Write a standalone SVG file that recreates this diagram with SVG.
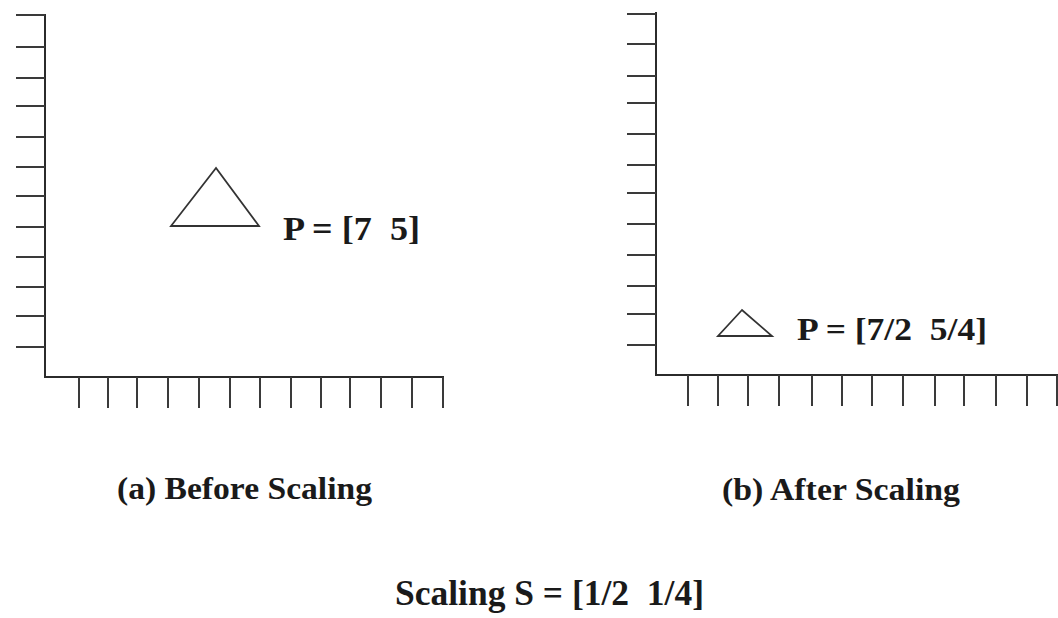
<svg xmlns="http://www.w3.org/2000/svg" width="1058" height="618" viewBox="0 0 1058 618">
<style>
.ax{stroke:#2b2b2b;stroke-width:2;fill:none;stroke-linecap:square}
.tk{stroke:#3a3a3a;stroke-width:2;fill:none}
.tri{stroke:#333;stroke-width:1.8;fill:none;stroke-linejoin:miter}
.t{font-family:"Liberation Serif","Times New Roman",serif;font-weight:bold;fill:#1a1a1a;white-space:pre}
</style>
<rect width="1058" height="618" fill="#ffffff"/>
<g id="plot-a">
<path class="ax" d="M45 15 V377 H443"/>
<path class="tk" d="M16 15H45M16 47H45M16 78H45M16 106H45M16 137H45M16 167H45M16 196H45M16 227H45M16 257H45M16 287H45M16 316H45M16 347H45"/>
<path class="tk" d="M79 377V408M108 377V408M137 377V408M168 377V408M199 377V408M230 377V408M260 377V408M291 377V408M321 377V408M350 377V408M381 377V408M412 377V408M443 377V408"/>
</g>
<g id="triangle-a">
<polygon class="tri" points="216,168 171,226 259,226"/>
<text class="t" x="283" y="240" font-size="33" textLength="137" lengthAdjust="spacingAndGlyphs">P = [7  5]</text>
</g>
<g id="plot-b">
<path class="ax" d="M656 13 V375 H1058"/>
<path class="tk" d="M627 14H656M627 44H656M627 76H656M627 103H656M627 134H656M627 165H656M627 193H656M627 224H656M627 255H656M627 286H656M627 314H656M627 345H656"/>
<path class="tk" d="M688 375V406M718 375V406M748 375V406M779 375V406M812 375V406M842 375V406M872 375V406M903 375V406M935 375V406M964 375V406M996 375V406M1027 375V406M1057 375V406"/>
</g>
<g id="triangle-b">
<polygon class="tri" points="742,310 718,336 772,336"/>
<text class="t" x="797" y="340" font-size="32" textLength="190" lengthAdjust="spacingAndGlyphs">P = [7/2  5/4]</text>
</g>
<g id="captions">
<text class="t" x="117" y="499" font-size="31" textLength="255" lengthAdjust="spacingAndGlyphs">(a) Before Scaling</text>
<text class="t" x="722" y="500" font-size="31" textLength="238" lengthAdjust="spacingAndGlyphs">(b) After Scaling</text>
<text class="t" x="395" y="605" font-size="35" textLength="309" lengthAdjust="spacingAndGlyphs">Scaling S = [1/2  1/4]</text>
</g>
</svg>
